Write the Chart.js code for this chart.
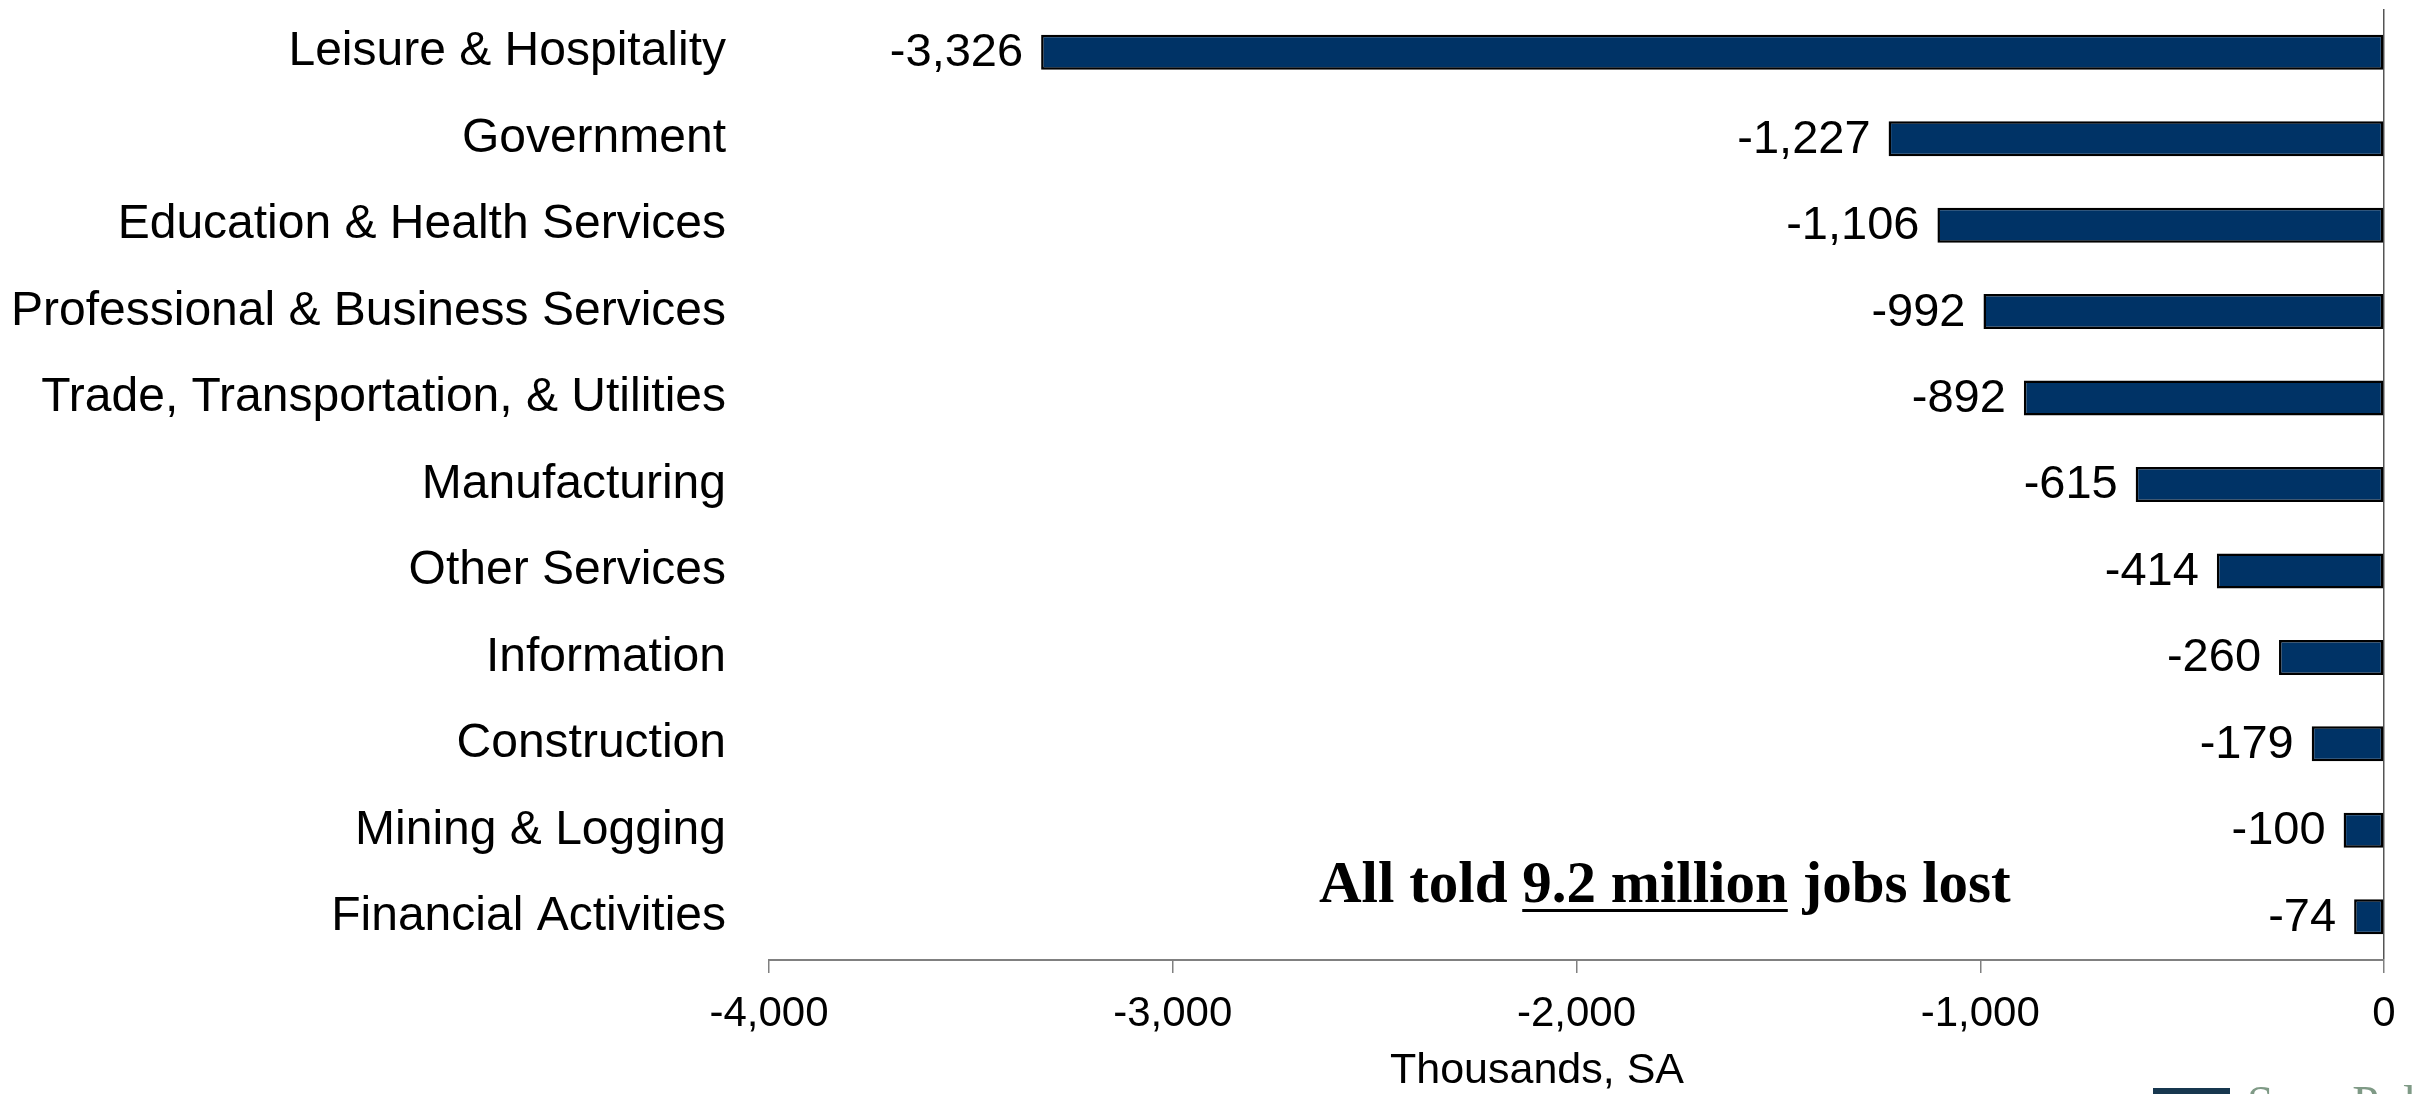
<!DOCTYPE html>
<html lang="en">

<head>
    <meta charset="UTF-8">
    <title>Jobs Lost by Industry</title>
    <script src="https://cdn.jsdelivr.net/npm/chart.js"></script>
    <style>
        * {
            margin: 0;
            padding: 0;
            box-sizing: border-box;
        }

        body {
            background-color: #fff;
            overflow: hidden;
        }

        .chart-container {
            position: relative;
            width: 2420px;
            height: 1094px;
        }
    </style>
</head>

<body>
    <div class="chart-container">
        <canvas id="jobsChart" width="2420" height="1094"></canvas>
    </div>

    <script>
        // Job losses by industry, thousands (seasonally adjusted)
        const industries = [
            "Leisure & Hospitality",
            "Government",
            "Education & Health Services",
            "Professional & Business Services",
            "Trade, Transportation, & Utilities",
            "Manufacturing",
            "Other Services",
            "Information",
            "Construction",
            "Mining & Logging",
            "Financial Activities"
        ];
        const jobChange = [-3326, -1227, -1106, -992, -892, -615, -414, -260, -179, -100, -74];

        // x axis range and tick spacing
        const axisMin = -4000;
        const axisMax = 0;
        const axisStep = 1000;

        const sansFont = "'Liberation Sans', Arial, sans-serif";
        const serifFont = "'Liberation Serif', 'Times New Roman', serif";

        const fmt = v => v.toLocaleString('en-US');

        // value labels to the left of each bar
        const valueLabels = {
            id: 'valueLabels',
            afterDatasetsDraw(chart) {
                const ctx = chart.ctx;
                const meta = chart.getDatasetMeta(0);
                ctx.save();
                ctx.font = '47px ' + sansFont;
                ctx.fillStyle = '#000';
                ctx.textAlign = 'right';
                ctx.textBaseline = 'middle';
                meta.data.forEach((bar, i) => {
                    ctx.fillText(fmt(jobChange[i]), bar.x - 18, bar.y + 1);
                });
                ctx.restore();
            }
        };

        // axis caption, "All told ..." note and the logo strip at the bottom
        const notes = {
            id: 'notes',
            afterDraw(chart) {
                const ctx = chart.ctx;
                ctx.save();

                ctx.font = '43px ' + sansFont;
                ctx.fillStyle = '#000';
                ctx.textAlign = 'center';
                ctx.textBaseline = 'middle';
                ctx.fillText('Thousands, SA', 1537, 1071);

                ctx.font = 'bold 59px ' + serifFont;
                ctx.textAlign = 'left';
                ctx.textBaseline = 'alphabetic';
                const parts = ['All told ', '9.2 million', ' jobs lost'];
                let x = 1319;
                const y = 902;
                parts.forEach((p, i) => {
                    const w = ctx.measureText(p).width;
                    ctx.fillText(p, x, y);
                    if (i === 1) {
                        ctx.fillRect(x, y + 7, w, 3);
                    }
                    x += w;
                });

                ctx.fillStyle = '#17374f';
                ctx.fillRect(2153, 1088, 77, 10);
                ctx.font = '48px ' + serifFont;
                ctx.fillStyle = '#7f9a86';
                ctx.fillText('Sage Policy Group', 2247, 1119);
                ctx.restore();
            }
        };

        const ctx = document.getElementById('jobsChart').getContext('2d');
        const jobsChart = new Chart(ctx, {
            type: 'bar',
            data: {
                labels: industries,
                datasets: [{
                    data: jobChange,
                    backgroundColor: '#003366',
                    borderColor: '#000',
                    borderWidth: 2.5,
                    borderSkipped: false,
                    barPercentage: 0.405,
                    categoryPercentage: 1
                }]
            },
            options: {
                indexAxis: 'y',
                responsive: false,
                animation: false,
                devicePixelRatio: 1,
                layout: {
                    padding: { top: 9, right: 36, left: 0, bottom: 0 }
                },
                plugins: {
                    legend: { display: false },
                    tooltip: { enabled: false }
                },
                scales: {
                    x: {
                        min: axisMin,
                        max: axisMax,
                        afterFit(scale) {
                            scale.height = 134;
                        },
                        ticks: {
                            stepSize: axisStep,
                            padding: 16,
                            color: '#000',
                            font: { family: sansFont, size: 42 },
                            callback: v => fmt(v)
                        },
                        grid: {
                            drawTicks: true,
                            tickLength: 13,
                            tickColor: '#808080',
                            color: c => (c.tick && c.tick.value === 0) ? '#555' : 'transparent',
                            lineWidth: 1.5
                        },
                        border: {
                            color: '#808080',
                            width: 2
                        }
                    },
                    y: {
                        afterFit(scale) {
                            scale.width = 769;
                            // labels sit inside their bands, no extra room needed above/below
                            scale.paddingTop = 0;
                            scale.paddingBottom = 0;
                        },
                        ticks: {
                            padding: 35,
                            color: '#000',
                            font: { family: sansFont, size: 48 }
                        },
                        grid: { display: false },
                        border: { display: false }
                    }
                }
            },
            plugins: [valueLabels, notes]
        });
    </script>
</body>

</html>
